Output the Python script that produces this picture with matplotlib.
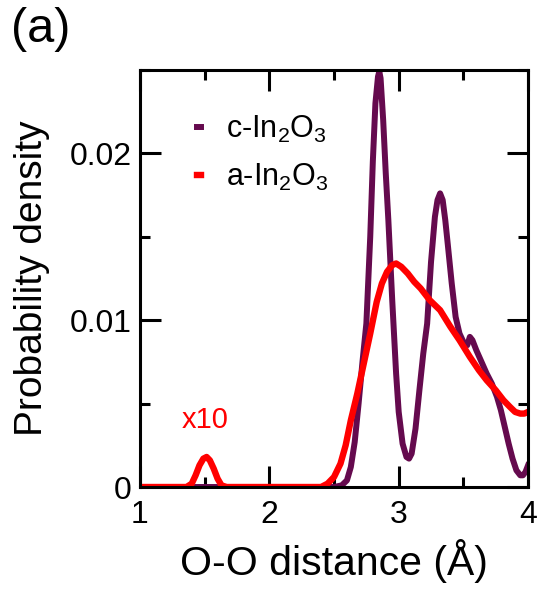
import matplotlib
matplotlib.use("Agg")
import matplotlib.pyplot as plt
from matplotlib.ticker import MultipleLocator

plt.rcParams["font.family"] = ["Liberation Sans", "DejaVu Sans"]
plt.rcParams["mathtext.default"] = "regular"

# c-In2O3 (crystalline) O-O distribution
c_x = [1.0, 2.50, 2.56, 2.60, 2.63, 2.66, 2.69, 2.72, 2.75, 2.78, 2.80, 2.82,
       2.84, 2.85, 2.86, 2.88, 2.90, 2.92, 2.95, 2.98, 3.00, 3.03, 3.06, 3.08,
       3.10, 3.13, 3.16, 3.19, 3.22, 3.25, 3.28, 3.30, 3.32, 3.34, 3.36, 3.38,
       3.41, 3.44, 3.47, 3.50, 3.53, 3.55, 3.57, 3.60, 3.64, 3.68, 3.72, 3.76,
       3.79, 3.82, 3.85, 3.88, 3.91, 3.94, 3.96, 3.98, 4.0]
c_y = [0.0, 0.0, 0.0001, 0.0004, 0.0012, 0.0027, 0.0050, 0.0075, 0.0098, 0.0150,
       0.0195, 0.0230, 0.0246, 0.0249, 0.0245, 0.0220, 0.0188, 0.0160, 0.0112,
       0.0068, 0.0045, 0.0026, 0.0018, 0.0017, 0.0020, 0.0035, 0.0058, 0.0080,
       0.0098, 0.0135, 0.0162, 0.0172, 0.0176, 0.0172, 0.0160, 0.0145, 0.0122,
       0.0102, 0.0092, 0.0087, 0.0085, 0.0090, 0.0088, 0.0082, 0.0075, 0.0068,
       0.0062, 0.0054, 0.0046, 0.0036, 0.0026, 0.0017, 0.0010, 0.0007, 0.0007,
       0.0009, 0.0013]

# a-In2O3 (amorphous) O-O distribution, short-distance peak shown x10
a_x = [1.0, 1.36, 1.40, 1.43, 1.46, 1.49, 1.515, 1.54, 1.57, 1.60, 1.63, 1.67,
       2.40, 2.45, 2.50, 2.55, 2.59, 2.63, 2.68, 2.73, 2.78, 2.83, 2.87, 2.91,
       2.95, 2.98, 3.02, 3.07, 3.12, 3.17, 3.24, 3.32, 3.40, 3.47, 3.55, 3.62,
       3.68, 3.75, 3.81, 3.86, 3.90, 3.94, 3.97, 4.0]
a_y = [0.0, 0.0, 0.0002, 0.0007, 0.0013, 0.0017, 0.0018, 0.0016, 0.0011, 0.0005,
       0.0001, 0.0, 0.0, 0.0002, 0.0006, 0.0014, 0.0025, 0.0040, 0.0056, 0.0074,
       0.0092, 0.0111, 0.0122, 0.0129, 0.0133, 0.0134, 0.0132, 0.0128, 0.0123,
       0.0119, 0.0112, 0.0106, 0.0096, 0.0088, 0.0078, 0.0070, 0.0064, 0.0058,
       0.0052, 0.0048, 0.0045, 0.0044, 0.0044, 0.0045]

purple = "#650a4e"
red = "#ff0000"

fig = plt.figure(figsize=(5.39, 5.95), dpi=100)
ax = fig.add_axes([0.2597, 0.1815, 0.72, 0.701])

ax.plot(c_x, c_y, color=purple, lw=4.3, label="c-In$_2$O$_3$", solid_joinstyle="round")
ax.plot(a_x, a_y, color=red, lw=4.6, label="a-In$_2$O$_3$", solid_joinstyle="round")

ax.set_xlim(1, 4)
ax.set_ylim(0, 0.025)
ax.xaxis.set_major_locator(MultipleLocator(1))
ax.xaxis.set_minor_locator(MultipleLocator(0.5))
ax.yaxis.set_major_locator(MultipleLocator(0.01))
ax.yaxis.set_minor_locator(MultipleLocator(0.005))
ax.set_yticks([0, 0.01, 0.02])
ax.set_yticklabels(["0", "0.01", "0.02"])

ax.tick_params(which="both", direction="in", top=True, right=True, width=2.2,
               labelsize=23)
ax.tick_params(which="major", length=15)
ax.tick_params(which="minor", length=7.5)
ax.tick_params(axis="x", pad=9)
ax.tick_params(axis="y", pad=6)
for s in ax.spines.values():
    s.set_linewidth(2.2)

ax.set_xlabel("O-O distance (Å)", fontsize=29.5, labelpad=7)
ax.set_ylabel("Probability density", fontsize=28, labelpad=14)

leg = ax.legend(loc="upper left", bbox_to_anchor=(0.075, 0.96), frameon=False,
                fontsize=22, handlelength=0.15, handletextpad=0.8,
                labelspacing=0.55)

ax.text(1.5, 0.0032, "x10", color=red, fontsize=21, ha="center", va="bottom")
fig.text(0.02, 0.988, "(a)", fontsize=35, ha="left", va="top")

fig.savefig("out.png", dpi=100)
